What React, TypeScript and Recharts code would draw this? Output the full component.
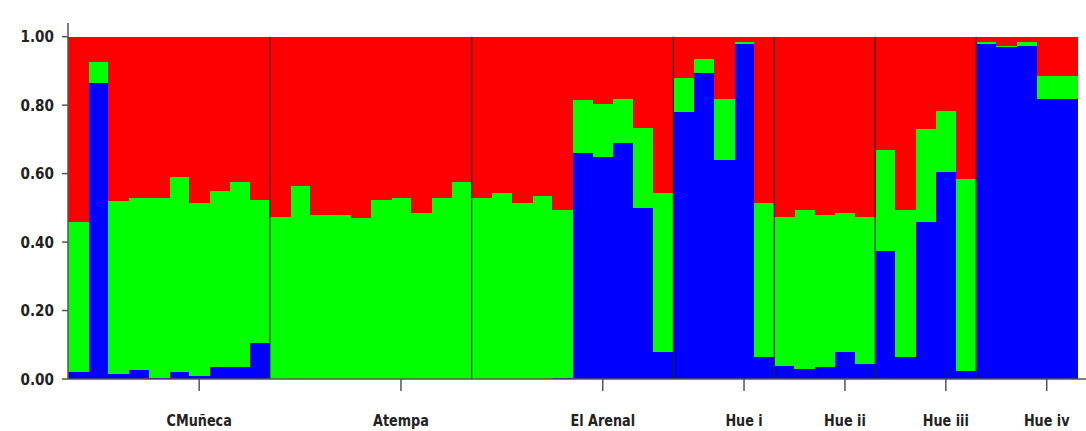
import React from 'react';
import { BarChart, Bar, XAxis, YAxis, ReferenceLine } from 'recharts';

// populations, in plot order
const groups = ['CMuñeca', 'Atempa', 'El Arenal', 'Hue i', 'Hue ii', 'Hue iii', 'Hue iv'];
// individual (within each group) that carries the group label
const labelAt = [6, 6, 6, 3, 3, 3, 3];

// membership in the blue cluster, per individual
const blueCMuneca = [0.02, 0.865, 0.015, 0.026, 0.005, 0.02, 0.01, 0.035, 0.035, 0.105];
const blueAtempa = [0, 0, 0, 0, 0, 0, 0, 0, 0, 0];
const blueArenal = [0, 0, 0, 0, 0.005, 0.66, 0.65, 0.69, 0.5, 0.08];
const blueHueI = [0.78, 0.895, 0.64, 0.98, 0.065];
const blueHueII = [0.04, 0.03, 0.035, 0.08, 0.045];
const blueHueIII = [0.375, 0.065, 0.46, 0.605, 0.025];
const blueHueIV = [0.98, 0.97, 0.975, 0.82, 0.82];

// membership in the green cluster, per individual
const greenCMuneca = [0.44, 0.062, 0.505, 0.504, 0.525, 0.57, 0.505, 0.515, 0.54, 0.42];
const greenAtempa = [0.475, 0.565, 0.48, 0.48, 0.47, 0.525, 0.53, 0.485, 0.53, 0.575];
const greenArenal = [0.53, 0.545, 0.515, 0.535, 0.49, 0.155, 0.155, 0.13, 0.235, 0.465];
const greenHueI = [0.1, 0.04, 0.18, 0.005, 0.45];
const greenHueII = [0.435, 0.465, 0.445, 0.405, 0.43];
const greenHueIII = [0.295, 0.43, 0.27, 0.18, 0.56];
const greenHueIV = [0.005, 0.005, 0.01, 0.065, 0.065];

const blues = [blueCMuneca, blueAtempa, blueArenal, blueHueI, blueHueII, blueHueIII, blueHueIV];
const greens = [greenCMuneca, greenAtempa, greenArenal, greenHueI, greenHueII, greenHueIII, greenHueIV];

const yTicks = [0, 0.2, 0.4, 0.6, 0.8, 1.0];

// red cluster is whatever is left
const data = groups.flatMap((g, gi) =>
  blues[gi].map((b, i) => ({
    id: `${g}-${i + 1}`,
    group: g,
    blue: b,
    green: greens[gi][i],
    red: Math.max(0, 1 - b - greens[gi][i]),
  }))
);

const labelIds = groups.map((g, gi) => `${g}-${labelAt[gi] + 1}`);
const firstIds = groups.slice(1).map((g) => `${g}-1`);

const font = "'DejaVu Sans', sans-serif";

// bold narrow text: DejaVu squeezed horizontally
const GroupTick = (props: any) => {
  const { x, y, payload } = props;
  const name = String(payload.value).replace(/-\d+$/, '');
  return (
    <g transform={`translate(${x},${y}) scale(0.8,1)`}>
      <text x={0} y={0} dy="0.71em" textAnchor="middle" fill="#222" fontSize={16} fontWeight="bold" fontFamily={font}>
        {name}
      </text>
    </g>
  );
};

const ValueTick = (props: any) => {
  const { x, y, payload } = props;
  return (
    <g transform={`translate(${x},${y}) scale(0.85,1)`}>
      <text x={0} y={0} dy="0.36em" textAnchor="end" fill="#222" fontSize={16} fontWeight="bold" fontFamily={font}>
        {Number(payload.value).toFixed(2)}
      </text>
    </g>
  );
};

// slightly widened rect so neighbouring bars don't leave hairline seams
const Block = (props: any) => {
  const { x, y, width, height, fill } = props;
  if (!height || height <= 0) return null;
  return <rect x={x} y={y} width={width + 0.8} height={height + 0.3} fill={fill} shapeRendering="crispEdges" />;
};

export default function App() {
  return (
    <div style={{ position: 'absolute', left: 0, top: 0, background: '#fff' }}>
      <BarChart
        width={1086}
        height={431}
        data={data}
        margin={{ top: 23, right: 0, bottom: 0, left: 0 }}
        barCategoryGap={0}
        barGap={0}
      >
        <XAxis
          dataKey="id"
          ticks={labelIds}
          interval={0}
          height={52}
          tickSize={12}
          tickMargin={24}
          tick={<GroupTick />}
          stroke="#555"
          strokeWidth={1.5}
          padding={{ left: 0, right: 9 }}
        />
        <YAxis
          domain={[0, 1.04]}
          ticks={yTicks}
          width={68}
          tickSize={6}
          tickMargin={8}
          tick={<ValueTick />}
          stroke="#555"
          strokeWidth={1.5}
          allowDataOverflow
        />
        <Bar dataKey="blue" stackId="q" fill="#0000ff" shape={<Block />} isAnimationActive={false} />
        <Bar dataKey="green" stackId="q" fill="#00ff00" shape={<Block />} isAnimationActive={false} />
        <Bar dataKey="red" stackId="q" fill="#ff0000" shape={<Block />} isAnimationActive={false} />
        {firstIds.map((id) => (
          <ReferenceLine
            key={id}
            segment={[{ x: id, y: 0 }, { x: id, y: 1 }]}
            position="start"
            stroke="#222"
            strokeWidth={1.2}
          />
        ))}
      </BarChart>
    </div>
  );
}
